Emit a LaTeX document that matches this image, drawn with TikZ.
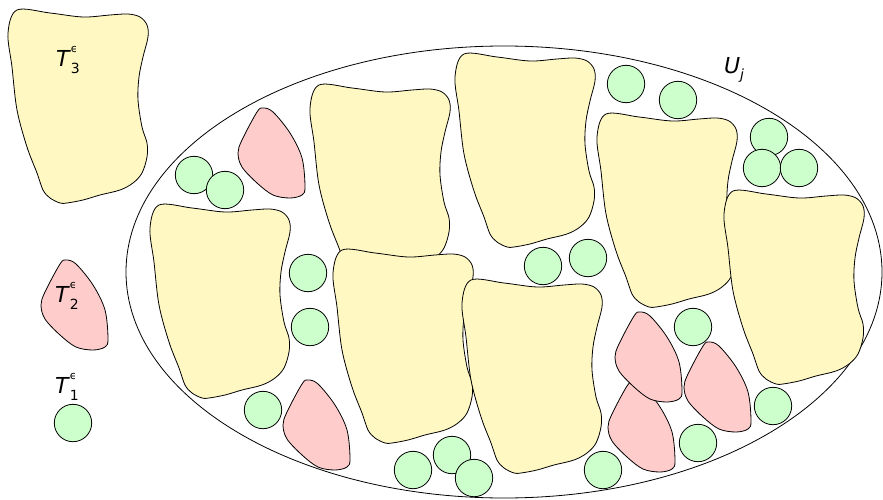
\documentclass[tikz,border=0pt]{standalone}
\usepackage{fontspec}
\setmainfont{DejaVu Sans}
\definecolor{ylw}{HTML}{FFF8C2}
\definecolor{pnk}{HTML}{FFCCCC}
\definecolor{grn}{HTML}{CCFFCC}
\tikzset{
  yblob/.style={draw=black, line width=0.8pt, fill=ylw},
  pblob/.style={draw=black, line width=0.8pt, fill=pnk},
  gdisk/.style={draw=black, line width=0.8pt, fill=grn},
  outer/.style={draw=black, line width=0.8pt},
  lab/.style={inner sep=0pt, font=\fontsize{22}{26}\selectfont}
}
\newcommand\yshape[2]{\draw[yblob, shift={(#1,#2)}] plot[smooth cycle, tension=0.55] coordinates {(0,25) (9,2) (42,5) (75,9) (102,7) (120,6) (132,9) (139,17) (140,29) (135,49) (131,69) (130,92) (134,119) (139,135) (139,149) (134,165) (125,175) (112,182) (92,187) (75,192) (59,195) (52,195) (42,190) (35,182) (29,165) (19,139) (9,102) (4,59)};}
\newcommand\pshape[2]{\draw[pblob, shift={(#1,#2)}] plot[smooth cycle, tension=0.55] coordinates {(25,0) (19,4) (4,32) (0,45) (4,59) (19,75) (35,87) (52,90) (64,87) (67,79) (64,50) (52,25) (35,4)};}
\newcommand\gdot[2]{\draw[gdisk] (#1,#2) circle[radius=18.7pt];}
\newcommand\mylab[2]{\textit{#1}\makebox[0pt][l]{\raisebox{0.62em}{\fontsize{11}{11}\selectfont ϵ}}\raisebox{-0.3em}{\fontsize{14}{14}\selectfont #2}}
\begin{document}
\begin{tikzpicture}[x=1pt, y=-1pt]
\useasboundingbox (0,0) rectangle (883,500);
% big set
\draw[outer] (504,272) ellipse [x radius=378pt, y radius=226pt];
% yellow blobs
\yshape{8}{8}
\yshape{310}{83}
\yshape{455}{52}
\yshape{597}{112}
\yshape{724}{189}
\yshape{150}{203}
\yshape{333}{248}
\yshape{462}{278}
% pink blobs
\pshape{41}{260}
\pshape{238}{108}
\pshape{283}{380}
\pshape{608}{382}
\pshape{615}{312}
\pshape{684}{342}
% green discs
\gdot{73}{423}
\gdot{194}{175}
\gdot{225}{190}
\gdot{308}{273}
\gdot{310}{327}
\gdot{263}{410}
\gdot{413}{470}
\gdot{452}{455}
\gdot{474}{478}
\gdot{626}{84}
\gdot{678}{100}
\gdot{769}{137}
\gdot{762}{168}
\gdot{799}{168}
\gdot{543}{266}
\gdot{588}{258}
\gdot{693}{327}
\gdot{773}{406}
\gdot{698}{443}
\gdot{603}{470}
% labels
\node[lab] (t3) at (68,60) {\mylab{T}{3}};
\node[lab] (t2) at (67,296) {\mylab{T}{2}};
\node[lab] (t1) at (67,387) {\mylab{T}{1}};
\node[lab] (uj) at (734,70) {\textit{U}\raisebox{-0.3em}{\fontsize{14}{14}\selectfont\textit{j}}};
\end{tikzpicture}
\end{document}
